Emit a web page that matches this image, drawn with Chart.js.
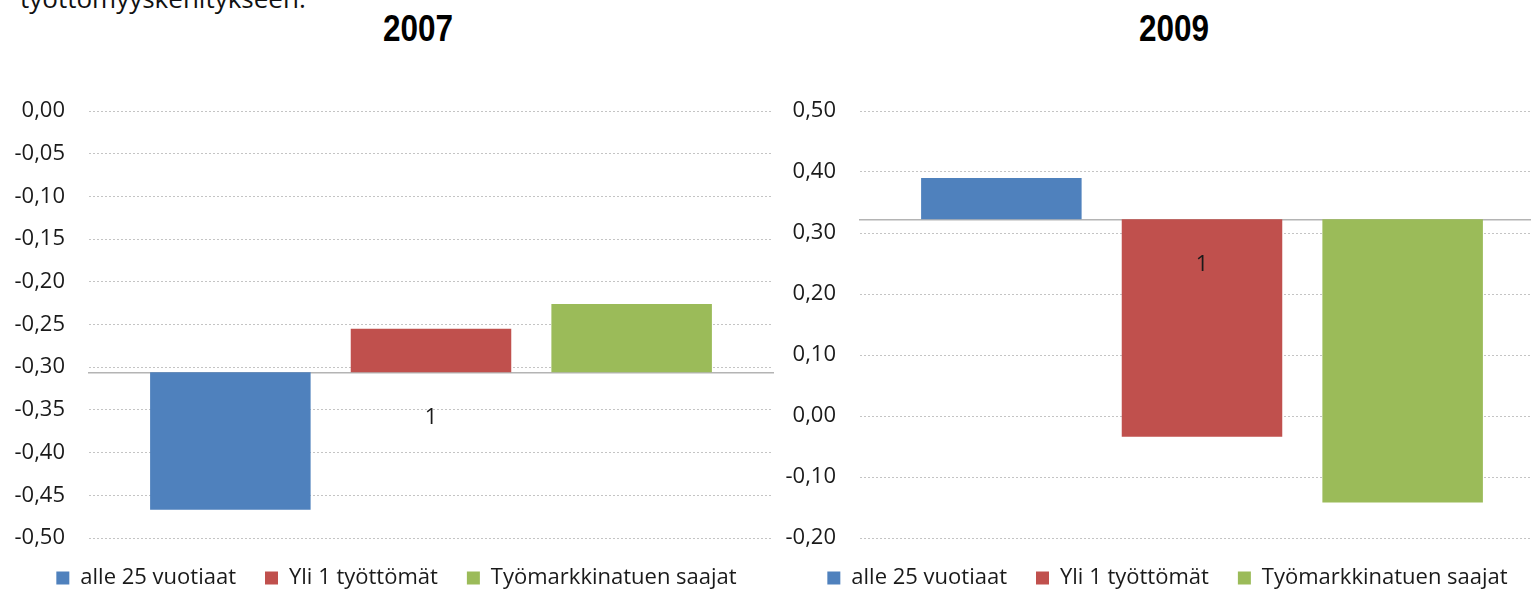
<!DOCTYPE html>
<html>
<head>
<meta charset="utf-8">
<script src="https://cdn.jsdelivr.net/npm/chart.js@4/dist/chart.umd.min.js"></script>
<style>
  html, body { margin: 0; padding: 0; background: #fff; }
  body { width: 1531px; height: 589px; overflow: hidden; position: relative; }
  .kaavio { position: absolute; top: 0; }
  #vasen { left: 0; width: 792px; height: 599px; }
  #oikea { left: 775px; width: 780px; height: 599px; }
  .otsikko {
    position: absolute; top: 8px; width: 200px; margin-left: -100px;
    text-align: center; font-family: "Liberation Sans", Arial, sans-serif;
    font-weight: bold; font-size: 36px; color: #000;
    transform: scaleX(0.875);
  }
  #ylateksti {
    position: absolute; left: 20px; top: -20px; font-family: "Open Sans", sans-serif;
    font-size: 26px; color: #111;
  }
</style>
</head>
<body>
<div id="ylateksti">työttömyyskehitykseen.</div>
<div class="otsikko" style="left:418px">2007</div>
<div class="otsikko" style="left:1174px">2009</div>
<div class="kaavio" id="vasen"><canvas id="kaavio2007"></canvas></div>
<div class="kaavio" id="oikea"><canvas id="kaavio2009"></canvas></div>
<script>
const kategoriat = ['1'];
const sarjat = ['alle 25 vuotiaat', 'Yli 1 työttömät', 'Työmarkkinatuen saajat'];
const varit = ['#4f81bd', '#c0504d', '#9bbb59'];

const arvot2007 = [-0.467, -0.255, -0.226];
const pohja2007 = -0.306;
const akseli2007 = { min: -0.5, max: 0, askel: 0.05 };

const arvot2009 = [0.390, -0.034, -0.142];
const pohja2009 = 0.3225;
const akseli2009 = { min: -0.2, max: 0.5, askel: 0.1 };

const fontti = '"Open Sans", sans-serif';

function muotoile(v) {
    if (Math.abs(v) < 1e-9) v = 0;
    return v.toFixed(2).replace('.', ',');
}

// y-akselin nimikkeet saavat ulottua vasemman reunuksen päälle (muuten ne leikataan)
const akselinLeikkaus = {
    id: 'akselinLeikkaus',
    afterLayout(chart) {
        chart.scales.y.left = 0;
    }
};

function luoKaavio(id, arvot, pohja, akseli, vasenReuna, oikeaReuna) {
    const ctx = document.getElementById(id).getContext('2d');
    return new Chart(ctx, {
        type: 'bar',
        data: {
            labels: kategoriat,
            datasets: sarjat.map((nimi, i) => ({
                label: nimi,
                data: [arvot[i]],
                base: pohja,
                backgroundColor: varit[i],
                borderWidth: 0
            }))
        },
        options: {
            responsive: true,
            maintainAspectRatio: false,
            animation: false,
            categoryPercentage: 0.88,
            barPercentage: 0.80,
            layout: { padding: { top: 111, left: vasenReuna, right: oikeaReuna, bottom: 0 } },
            scales: {
                x: {
                    position: { y: pohja },
                    grid: { display: true, color: 'transparent', drawTicks: false },
                    border: { display: true, color: '#b4b4b4', width: 1.5 },
                    ticks: { z: 1, color: '#1a1a1a', padding: 32, font: { family: fontti, size: 22 } }
                },
                y: {
                    min: akseli.min,
                    max: akseli.max,
                    grid: { color: '#c4c4c4', drawTicks: false },
                    border: { display: false, dash: [2, 2] },
                    ticks: {
                        stepSize: akseli.askel,
                        padding: 24,
                        color: '#1a1a1a',
                        font: { family: fontti, size: 22 },
                        callback: muotoile
                    },
                    afterFit: s => { s.width = 69; }
                }
            },
            plugins: {
                legend: {
                    position: 'bottom',
                    labels: {
                        boxWidth: 13,
                        boxHeight: 13,
                        padding: 29,
                        color: '#1a1a1a',
                        font: { family: fontti, size: 22 }
                    }
                },
                tooltip: { enabled: false }
            }
        },
        plugins: [akselinLeikkaus]
    });
}

luoKaavio('kaavio2007', arvot2007, pohja2007, akseli2007, 20, 19);
luoKaavio('kaavio2009', arvot2009, pohja2009, akseli2009, 16, 11);
</script>
</body>
</html>
